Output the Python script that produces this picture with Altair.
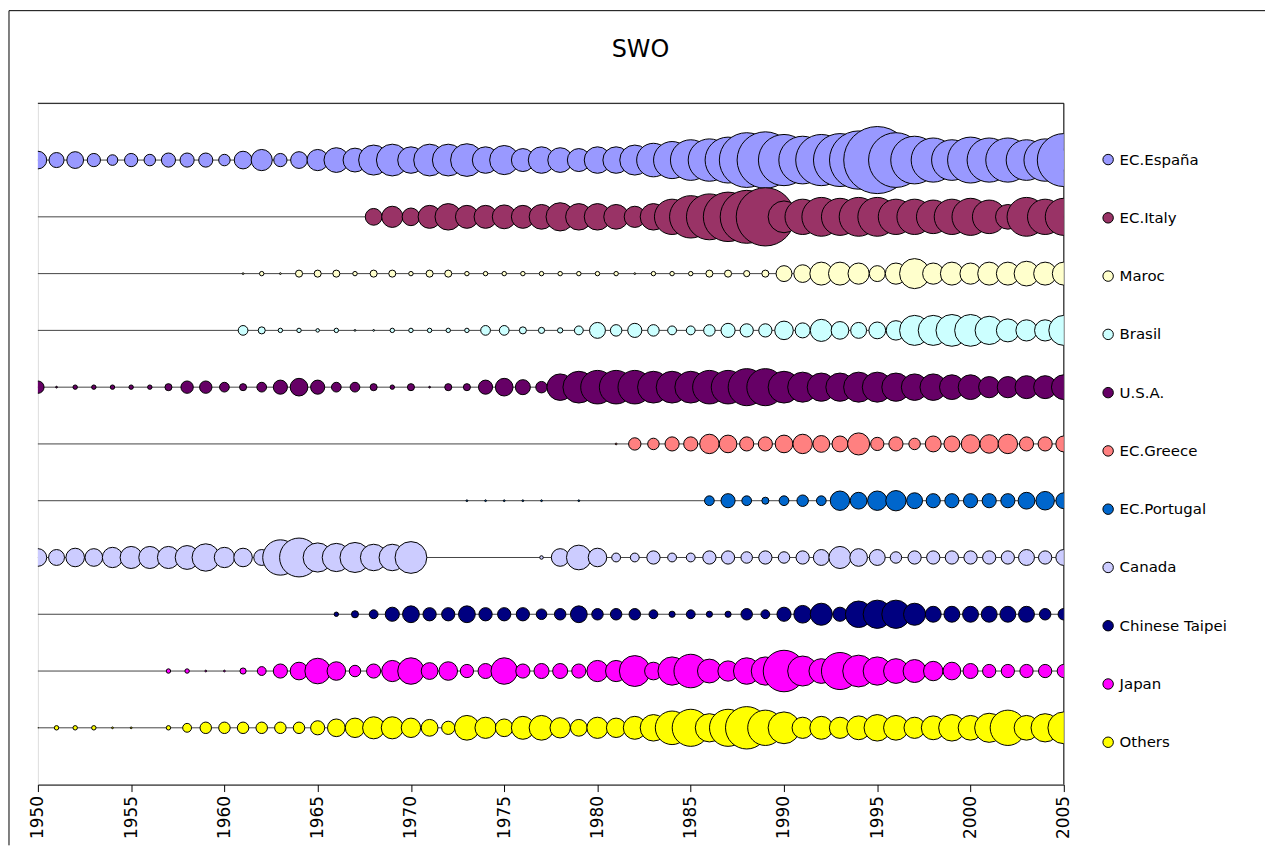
import math
import altair as alt
import pandas as pd

N = None
YEARS = list(range(1950, 2006))
SERIES = ["EC.España", "EC.Italy", "Maroc", "Brasil", "U.S.A.", "EC.Greece",
          "EC.Portugal", "Canada", "Chinese Taipei", "Japan", "Others"]
COLORS = ["#9999FF", "#993366", "#FFFFCC", "#CCFFFF", "#660066", "#FF8080",
          "#0066CC", "#CCCCFF", "#000080", "#FF00FF", "#FFFF00"]
TITLE = "SWO"

# relative catch index per year (bubble diameter scale), 1950..2005
espana = [20, 17, 19, 15, 12, 15, 13, 16, 16, 16,
          13, 20, 24, 15, 19, 24, 28, 27, 34, 36,
          30, 36, 36, 37, 30, 33, 26, 30, 28, 26,
          30, 30, 34, 38, 42, 46, 48, 52, 62, 64,
          58, 54, 58, 60, 66, 76, 62, 54, 50, 46,
          52, 50, 50, 46, 48, 60]
italy = [N] * 18 + [19, 24,
         20, 26, 30, 26, 26, 27, 26, 28, 32, 30,
         30, 28, 24, 30, 40, 48, 52, 56, 60, 66,
         36, 40, 44, 42, 44, 44, 40, 40, 38, 40,
         42, 38, 28, 44, 40, 42]
maroc = [N] * 11 + [2, 5, 2, 8, 8, 8, 5, 8, 8,
         5, 8, 8, 5, 5, 5, 5, 5, 5, 5,
         5, 5, 2, 5, 5, 5, 8, 8, 7, 8,
         18, 20, 26, 26, 24, 18, 24, 34, 24, 26,
         24, 26, 26, 28, 26, 26]
brasil = [N] * 11 + [11, 8, 5, 5, 4, 5, 2, 2, 5,
          5, 5, 5, 5, 11, 11, 8, 7, 6, 10,
          18, 13, 16, 13, 10, 10, 13, 16, 15, 15,
          21, 17, 25, 20, 18, 19, 22, 34, 34, 36,
          36, 32, 26, 24, 24, 34]
usa = [14, 2, 5, 5, 5, 5, 5, 8, 14, 14,
       11, 8, 11, 16, 20, 16, 11, 11, 8, 5,
       8, 2, 8, 8, 16, 20, 17, 13, 30, 36,
       38, 38, 38, 36, 36, 36, 38, 38, 42, 42,
       36, 34, 32, 32, 34, 34, 32, 30, 30, 28,
       28, 24, 24, 26, 26, 28]
greece = [N] * 31 + [2,
          14, 13, 16, 16, 22, 20, 16, 16,
          20, 22, 19, 18, 25, 15, 16, 13, 18, 18,
          21, 21, 22, 16, 16, 18]
portugal = [N] * 23 + [2, 2, 2, 2, 2, N, 2,
            N, N, N, N, N, N, 11, 16, 11, 8,
            11, 13, 11, 22, 19, 22, 23, 18, 16, 16,
            16, 16, 16, 19, 21, 18]
canada = [20, 18, 21, 20, 23, 25, 25, 25, 27, 31,
          23, 21, 18, 40, 44, 33, 32, 34, 30, 30,
          36, N, N, N, N, N, N, 4, 20, 28,
          21, 10, 10, 15, 10, 10, 15, 15, 13, 15,
          13, 15, 18, 25, 20, 18, 13, 15, 15, 15,
          15, 15, 15, 18, 15, 18]
taipei = [N] * 16 + [5, 8, 10, 16,
          19, 15, 15, 19, 15, 15, 15, 12, 13, 19,
          13, 13, 13, 10, 7, 10, 7, 7, 13, 10,
          16, 20, 25, 16, 30, 32, 32, 25, 18, 18,
          18, 18, 18, 18, 13, 13]
japan = [N] * 7 + [5, 5, 2,
         2, 7, 10, 16, 20, 29, 21, 13, 16, 24,
         30, 19, 21, 15, 17, 30, 16, 17, 17, 16,
         24, 24, 35, 20, 32, 38, 27, 23, 30, 32,
         47, 34, 28, 42, 36, 32, 28, 26, 22, 20,
         17, 15, 15, 15, 15, 15]
others = [1, 5, 5, 5, 2, 2, N, 5, 10, 13,
          13, 13, 13, 13, 13, 16, 20, 22, 25, 25,
          22, 19, 15, 28, 24, 20, 26, 28, 23, 19,
          24, 22, 26, 30, 38, 42, 32, 42, 48, 40,
          36, 24, 26, 24, 27, 30, 28, 24, 27, 30,
          28, 33, 40, 28, 32, 36]

VALUES = [espana, italy, maroc, brasil, usa, greece, portugal, canada, taipei, japan, others]

rows = []
for i, (name, vals) in enumerate(zip(SERIES, VALUES)):
    for y, v in zip(YEARS, vals):
        if v is not None:
            rows.append({"series": name, "row": i + 1, "year": y, "value": v})
bubbles = pd.DataFrame(rows)
lines = pd.DataFrame({"series": SERIES, "row": list(range(1, 12)),
                      "year": [YEARS[0]] * 11, "end": [YEARS[-1]] * 11})
title_df = pd.DataFrame({"label": [TITLE]})

W, H = 1030, 684
FONT = "DejaVu Sans"

xscale = alt.Scale(domain=[1950, 2005], nice=False, zero=False)
yscale = alt.Scale(domain=[0, 12], reverse=True, nice=False, zero=False)
xaxis = alt.Axis(values=list(range(1950, 2006, 5)), format="d", labelAngle=-90,
                 labelFontSize=17, labelFont=FONT, labelColor="black",
                 tickSize=7, tickColor="black", domainColor="black",
                 labelPadding=4, grid=False, title=None)

line_layer = alt.Chart(lines).mark_rule(color="#444444", strokeWidth=1).encode(
    x=alt.X("year:Q", scale=xscale, axis=xaxis),
    x2="end:Q",
    y=alt.Y("row:Q", scale=yscale, axis=None),
)

DMAX = 80
bubble_layer = alt.Chart(bubbles).mark_circle(
    stroke="black", strokeWidth=1, opacity=1, clip=True
).encode(
    x=alt.X("year:Q", scale=xscale, axis=xaxis),
    y=alt.Y("row:Q", scale=yscale, axis=None),
    size=alt.Size("value:Q", legend=None,
                  scale=alt.Scale(type="pow", exponent=2, domain=[0, DMAX],
                                  range=[0, math.pi * DMAX * DMAX / 4])),
    fill=alt.Fill("series:N", scale=alt.Scale(domain=SERIES, range=COLORS),
                  legend=alt.Legend(title=None, orient="none", legendX=1067, legendY=49,
                                    symbolType="circle", symbolSize=110,
                                    symbolStrokeColor="black", symbolStrokeWidth=1,
                                    symbolOpacity=1,
                                    labelFont=FONT, labelFontSize=15, labelColor="black",
                                    rowPadding=42.5, labelOffset=4, padding=0)),
)

# chart-area frame (top, left) and plot-area border (top, right)
deco = alt.Chart(title_df)
frame = alt.layer(
    deco.mark_rule(color="black", strokeWidth=1, clip=False).encode(
        x=alt.value(-29), y=alt.value(-93), y2=alt.value(745)),
    deco.mark_rule(color="black", strokeWidth=1, clip=False).encode(
        x=alt.value(-29), x2=alt.value(1232), y=alt.value(-93)),
    deco.mark_rule(color="black", strokeWidth=1, clip=False).encode(
        x=alt.value(0), x2=alt.value(W), y=alt.value(0)),
    deco.mark_rule(color="black", strokeWidth=1, clip=False).encode(
        x=alt.value(W), y=alt.value(0), y2=alt.value(H)),
)

title_layer = deco.mark_text(
    font=FONT, fontSize=24, color="black", align="center", baseline="middle"
).encode(text="label:N", x=alt.value(605), y=alt.value(-53))

chart = alt.layer(frame, line_layer, bubble_layer, title_layer).properties(
    width=W, height=H,
    padding=0,
).configure_view(stroke=None).configure(background="white")

chart.save("out.html", embed_options={"renderer": "svg", "actions": False})
